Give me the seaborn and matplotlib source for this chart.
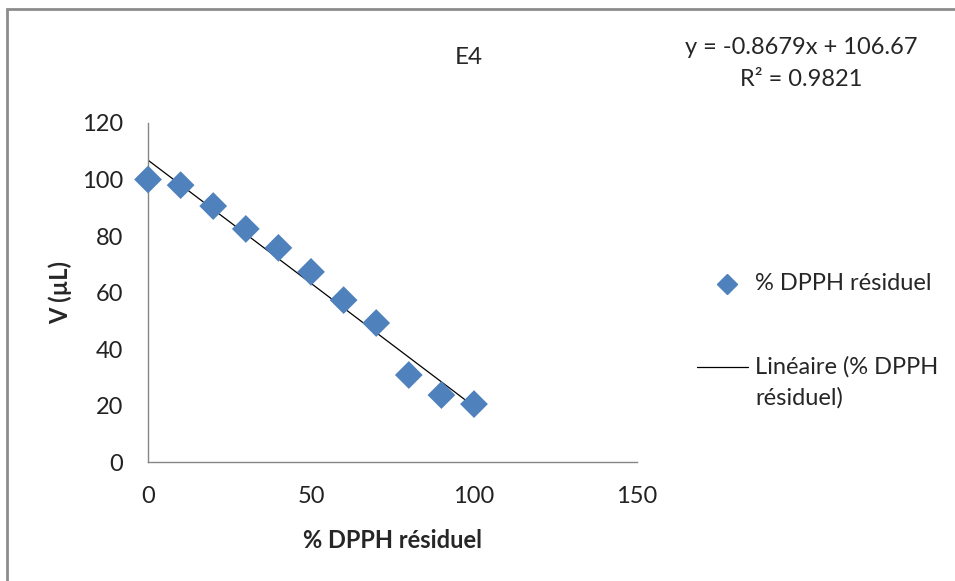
import numpy as np
import pandas as pd
import matplotlib
matplotlib.use("Agg")
import matplotlib.pyplot as plt
import seaborn as sns
from matplotlib.lines import Line2D
from matplotlib.patches import Rectangle

# --- Data ---
dpph_residuel = [0, 10, 20, 30, 40, 50, 60, 70, 80, 90, 100]
volume_ul = [100, 98, 90.6, 82.5, 75.8, 67.3, 57.3, 49.2, 30.8, 23.7, 20.5]
x_ticks = [0, 50, 100, 150]
y_ticks = [0, 20, 40, 60, 80, 100, 120]

df = pd.DataFrame({"x": dpph_residuel, "y": volume_ul})

sns.set_style("white")
plt.rcParams["font.family"] = ["Lato", "DejaVu Sans"]

blue = "#4F81BD"
grey = "#868686"
fs = 17

fig = plt.figure(figsize=(9.55, 5.81), dpi=100)
ax = fig.add_axes([0.155, 0.2048, 0.512, 0.5835])

sns.scatterplot(data=df, x="x", y="y", marker="D", s=200, color=blue,
                edgecolor="none", ax=ax, zorder=3, clip_on=False)
sns.regplot(data=df, x="x", y="y", scatter=False, ci=None, truncate=True,
            line_kws={"color": "black", "lw": 0.9}, ax=ax)

ax.set_xlim(0, 150)
ax.set_ylim(0, 120)
ax.set_xticks(x_ticks)
ax.set_yticks(y_ticks)
ax.tick_params(axis="both", length=0, labelsize=fs, colors="#222222")
ax.tick_params(axis="x", pad=17)
ax.tick_params(axis="y", pad=18)
for side in ["top", "right"]:
    ax.spines[side].set_visible(False)
for side in ["left", "bottom"]:
    ax.spines[side].set_color(grey)
    ax.spines[side].set_linewidth(1)

ax.set_xlabel("% DPPH résiduel", fontsize=fs, fontweight="bold")
ax.set_ylabel("V (µL)", fontsize=fs, fontweight="bold")
ax.xaxis.set_label_coords(0.5, -0.198)
ax.yaxis.set_label_coords(-0.155, 0.5)

# title and trendline equation
fig.text(469 / 955, 1 - 57 / 581, "E4", ha="center", va="center", fontsize=17.5)
slope, intercept = np.polyfit(dpph_residuel, volume_ul, 1)
r2 = np.corrcoef(dpph_residuel, volume_ul)[0, 1] ** 2
fig.text(801 / 955, 1 - 47 / 581, "y = -0.8679x + 106.67", ha="center",
         va="center", fontsize=fs)
fig.text(801 / 955, 1 - 80 / 581, "R² = 0.9821", ha="center",
         va="center", fontsize=fs)

# legend drawn by hand like the Excel one
fig.add_artist(Line2D([727 / 955], [1 - 284 / 581], marker="D", markersize=10,
                      color=blue, lw=0))
fig.text(755 / 955, 1 - 284 / 581, "% DPPH résiduel", ha="left", va="center",
         fontsize=fs)
fig.add_artist(Line2D([697 / 955, 748 / 955], [1 - 367 / 581, 1 - 367 / 581],
                      color="black", lw=0.9))
fig.text(755 / 955, 1 - 367 / 581, "Linéaire (% DPPH", ha="left", va="center",
         fontsize=fs)
fig.text(755 / 955, 1 - 398 / 581, "résiduel)", ha="left", va="center",
         fontsize=fs)

# outer chart frame
fig.add_artist(Rectangle((7 / 955, -0.1), 1.2, 1 - 9 / 581 + 0.1,
                         transform=fig.transFigure, fill=False,
                         edgecolor="#8c8c8c", lw=2))

fig.savefig("out.png", dpi=100)
